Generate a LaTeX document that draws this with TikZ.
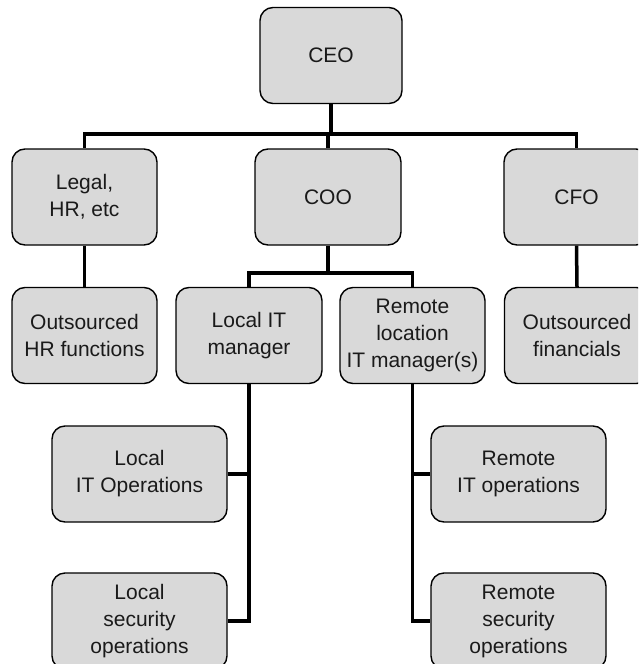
\documentclass[tikz,border=0pt]{standalone}
\usepackage{fontspec}
\setmainfont{Liberation Sans}
\definecolor{boxgray}{HTML}{D9D9D9}
\definecolor{inkgray}{HTML}{1A1A1A}
\begin{document}
\begin{tikzpicture}[x=1pt,y=-1pt,
  box/.style={draw=black, line width=1.4pt, fill=boxgray, rounded corners=13pt,
    minimum width=145pt, minimum height=96pt, inner sep=1pt, align=center,
    text=inkgray, font=\fontsize{21}{27}\selectfont},
  widebox/.style={box, minimum width=175pt},
  link/.style={line width=3.5pt, line join=miter}]
\useasboundingbox (0,0) rectangle (638,664);
\clip (0,0) rectangle (638,664);

% bus levels
\coordinate (topbus) at (0,134);
\coordinate (midbus) at (0,273);

% top level
\node[box, minimum width=142pt] (ceo) at (331,55.5) {CEO};

% second row
\node[box] (legal) at (84.5,197) {Legal,\\HR, etc};
\node[box, minimum width=146pt] (coo) at (328,197) {COO};
\node[box] (cfo) at (576.5,197) {CFO};

% third row
\node[box] (outhr) at (84.5,335.5) {Outsourced\\HR functions};
\node[box, minimum width=146pt] (lmgr) at (249,335.5) {Local IT\\manager};
\node[box] (rmgr) at (412.5,335.5) {Remote\\location\\IT manager(s)};
\node[box] (outfin) at (577,335.5) {Outsourced\\financials};

% operations
\node[widebox] (lops) at (139.5,474) {Local\\IT Operations};
\node[widebox] (lsec) at (139.5,621) {Local\\security\\operations};
\node[widebox] (rops) at (518.5,474) {Remote\\IT operations};
\node[widebox] (rsec) at (518.5,621) {Remote\\security\\operations};

% connectors
\draw[link] (ceo.south) -- (ceo.south |- topbus);
\draw[link] (legal.north) -- (legal.north |- topbus) -| (cfo.north);
\draw[link] (coo.north) -- (coo.north |- topbus);

\draw[link] (legal.south) -- (outhr.north);
\draw[link] (cfo.south) -- (outfin.north);

\draw[link] (coo.south) -- (coo.south |- midbus);
\draw[link] (lmgr.north) -- (lmgr.north |- midbus) -| (rmgr.north);

\draw[link] (lmgr.south) |- (lsec.east);
\draw[link] (lops.east) -- (lops.east -| lmgr.south);
\draw[link] (rmgr.south) |- (rsec.west);
\draw[link] (rops.west) -- (rops.west -| rmgr.south);
\end{tikzpicture}
\end{document}
